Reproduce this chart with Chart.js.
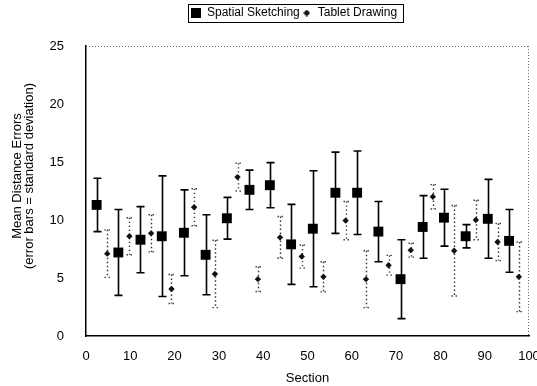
<!DOCTYPE html>
<html>
<head>
<meta charset="utf-8">
<script src="https://cdn.jsdelivr.net/npm/chart.js@4"></script>
<style>
  html, body { margin: 0; padding: 0; background: #fff; }
  #wrap { width: 537px; height: 386px; }
</style>
</head>
<body>
<div id="wrap"><canvas id="myChart"></canvas></div>
<script>
// values (mean and standard deviation per section)
const sketchX    = [2.4, 7.3, 12.3, 17.1, 22.1, 27.0, 31.8, 36.9, 41.5, 46.3, 51.2, 56.3, 61.2, 66.0, 71.0, 76.0, 80.8, 85.7, 90.7, 95.5];
const sketchMean = [11.3, 7.2, 8.3, 8.6, 8.9, 7.0, 10.15, 12.6, 13.0, 7.9, 9.25, 12.35, 12.35, 9.0, 4.9, 9.4, 10.2, 8.6, 10.1, 8.2];
const sketchSD   = [2.3, 3.7, 2.85, 5.2, 3.7, 3.45, 1.8, 1.7, 1.95, 3.45, 5.0, 3.5, 3.6, 2.6, 3.4, 2.7, 2.45, 1.0, 3.4, 2.7];

const tabletX    = [4.8, 9.8, 14.7, 19.3, 24.4, 29.1, 34.2, 38.8, 43.8, 48.7, 53.6, 58.6, 63.2, 68.3, 73.3, 78.3, 83.1, 88.0, 92.9, 97.7];
const tabletMean = [7.1, 8.6, 8.85, 4.05, 11.1, 5.35, 13.7, 4.9, 8.5, 6.85, 5.1, 9.95, 4.9, 6.1, 7.4, 12.0, 7.35, 10.0, 8.1, 5.1];
const tabletSD   = [2.05, 1.6, 1.6, 1.25, 1.6, 2.9, 1.2, 1.07, 1.8, 1.0, 1.3, 1.65, 2.45, 0.85, 0.6, 1.05, 3.9, 1.7, 1.6, 3.0];

const seriesNames = ['Spatial Sketching', 'Tablet Drawing'];
const xTicks = [0, 10, 20, 30, 40, 50, 60, 70, 80, 90, 100];
const yTicks = [0, 5, 10, 15, 20, 25];
const yTitle = ['Mean Distance Errors', '(error bars = standard deviation)'];
const xTitle = 'Section';

Chart.defaults.font.family = '"Liberation Sans", Arial, sans-serif';
Chart.defaults.color = '#000';

// small icons for the legend
function makeIcon(w, draw) {
  const c = document.createElement('canvas');
  c.width = w; c.height = w;
  draw(c.getContext('2d'), w);
  return c;
}
const legendIcons = [
  makeIcon(10, (g, w) => { g.fillStyle = '#000'; g.fillRect(0, 0, w, w); }),
  makeIcon(7, (g, w) => {
    g.fillStyle = '#111';
    g.beginPath();
    g.moveTo(w / 2, 0); g.lineTo(w, w / 2); g.lineTo(w / 2, w); g.lineTo(0, w / 2);
    g.closePath(); g.fill();
  })
];

// vertical error bars from the sd arrays
const errorBars = {
  id: 'errorBars',
  beforeDatasetsDraw(chart) {
    const {ctx, scales: {x, y}} = chart;
    chart.data.datasets.forEach((ds, i) => {
      if (!chart.isDatasetVisible(i)) return;
      ctx.save();
      ctx.strokeStyle = ds.barColor;
      ctx.lineWidth = ds.barWidth;
      ctx.setLineDash(ds.barDash);
      ds.data.forEach((p, j) => {
        const px = Math.round(x.getPixelForValue(p.x)) + 0.5;
        const top = y.getPixelForValue(p.y + ds.sd[j]);
        const bot = y.getPixelForValue(p.y - ds.sd[j]);
        ctx.beginPath();
        ctx.moveTo(px, top); ctx.lineTo(px, bot);
        ctx.moveTo(px - ds.cap, top); ctx.lineTo(px + ds.cap, top);
        ctx.moveTo(px - ds.cap, bot); ctx.lineTo(px + ds.cap, bot);
        ctx.stroke();
      });
      ctx.restore();
    });
  }
};

// frame, legend box and the two-line y title
const decor = {
  id: 'decor',
  beforeInit(chart) {
    const fit = chart.legend.fit;
    chart.legend.fit = function () {
      fit.bind(chart.legend)();
      this.height += 17;
    };
  },
  afterLayout(chart) {
    // legend sits a bit right of the canvas centre in the original
    chart.legend.left = 189;
  },
  afterDraw(chart) {
    const {ctx, chartArea: a} = chart;
    ctx.save();
    ctx.strokeStyle = '#666';
    ctx.lineWidth = 1;
    ctx.setLineDash([1, 2]);
    ctx.beginPath();
    ctx.moveTo(a.left, a.top + 0.5); ctx.lineTo(a.right, a.top + 0.5);
    ctx.moveTo(a.right - 0.5, a.top); ctx.lineTo(a.right - 0.5, a.bottom);
    ctx.stroke();
    ctx.restore();

    const hb = chart.legend.legendHitBoxes;
    if (hb && hb.length) {
      const last = hb[hb.length - 1];
      ctx.save();
      ctx.strokeStyle = '#000';
      ctx.lineWidth = 1;
      ctx.strokeRect(Math.round(hb[0].left - 3) + 0.5, Math.round(hb[0].top - 3) + 0.5,
        Math.round(last.left + last.width + 9 - hb[0].left), Math.round(hb[0].height + 6));
      ctx.restore();
    }

    ctx.save();
    ctx.fillStyle = '#000';
    ctx.font = '13px "Liberation Sans", Arial, sans-serif';
    ctx.textAlign = 'center';
    ctx.textBaseline = 'middle';
    yTitle.forEach((t, i) => {
      ctx.save();
      ctx.translate(17 + i * 12, 176);
      ctx.rotate(-Math.PI / 2);
      ctx.fillText(t, 0, 0);
      ctx.restore();
    });
    ctx.restore();
  }
};

const ctx = document.getElementById('myChart');

new Chart(ctx, {
  type: 'scatter',
  data: {
    datasets: [{
      label: seriesNames[0],
      data: sketchX.map((v, i) => ({x: v, y: sketchMean[i]})),
      sd: sketchSD,
      pointStyle: 'rect',
      pointRadius: 7,
      pointHoverRadius: 7,
      backgroundColor: '#000',
      borderColor: '#000',
      borderWidth: 0,
      barColor: '#000',
      barWidth: 1.6,
      barDash: [],
      cap: 4
    }, {
      label: seriesNames[1],
      data: tabletX.map((v, i) => ({x: v, y: tabletMean[i]})),
      sd: tabletSD,
      pointStyle: 'rectRot',
      pointRadius: 3.2,
      pointHoverRadius: 3.2,
      backgroundColor: '#111',
      borderColor: '#111',
      borderWidth: 0,
      barColor: '#333',
      barWidth: 1.4,
      barDash: [1.4, 2.6],
      cap: 3
    }]
  },
  options: {
    responsive: true,
    maintainAspectRatio: false,
    animation: false,
    layout: { padding: { left: 47, right: 8, top: 5, bottom: 0 } },
    plugins: {
      tooltip: { enabled: false },
      legend: {
        position: 'top',
        align: 'start',
        labels: {
          usePointStyle: true,
          boxWidth: 10,
          boxHeight: 10,
          padding: 2,
          color: '#000',
          font: { size: 12 },
          generateLabels(chart) {
            const items = Chart.defaults.plugins.legend.labels.generateLabels(chart);
            items.forEach((it, i) => { it.pointStyle = legendIcons[i]; it.fontColor = '#000'; });
            return items;
          }
        }
      }
    },
    scales: {
      x: {
        type: 'linear',
        min: 0,
        max: 100,
        afterBuildTicks: s => { s.ticks = xTicks.map(v => ({value: v})); },
        afterFit: s => { s.paddingLeft = 0; s.paddingRight = 0; s.height = 50; },
        grid: { display: false, drawTicks: false },
        border: { display: true, color: '#000', width: 1.5 },
        ticks: { padding: 13, font: { size: 13 }, color: '#000' },
        title: { display: true, text: xTitle, font: { size: 13 }, color: '#000', padding: { top: 6, bottom: 0 } }
      },
      y: {
        type: 'linear',
        min: 0,
        max: 25,
        afterBuildTicks: s => { s.ticks = yTicks.map(v => ({value: v})); },
        afterFit: s => { s.width = 39; },
        grid: { display: false, drawTicks: false },
        border: { display: true, color: '#000', width: 1.5 },
        ticks: { padding: 22, font: { size: 13 }, color: '#000' }
      }
    }
  },
  plugins: [errorBars, decor]
});
</script>
</body>
</html>
